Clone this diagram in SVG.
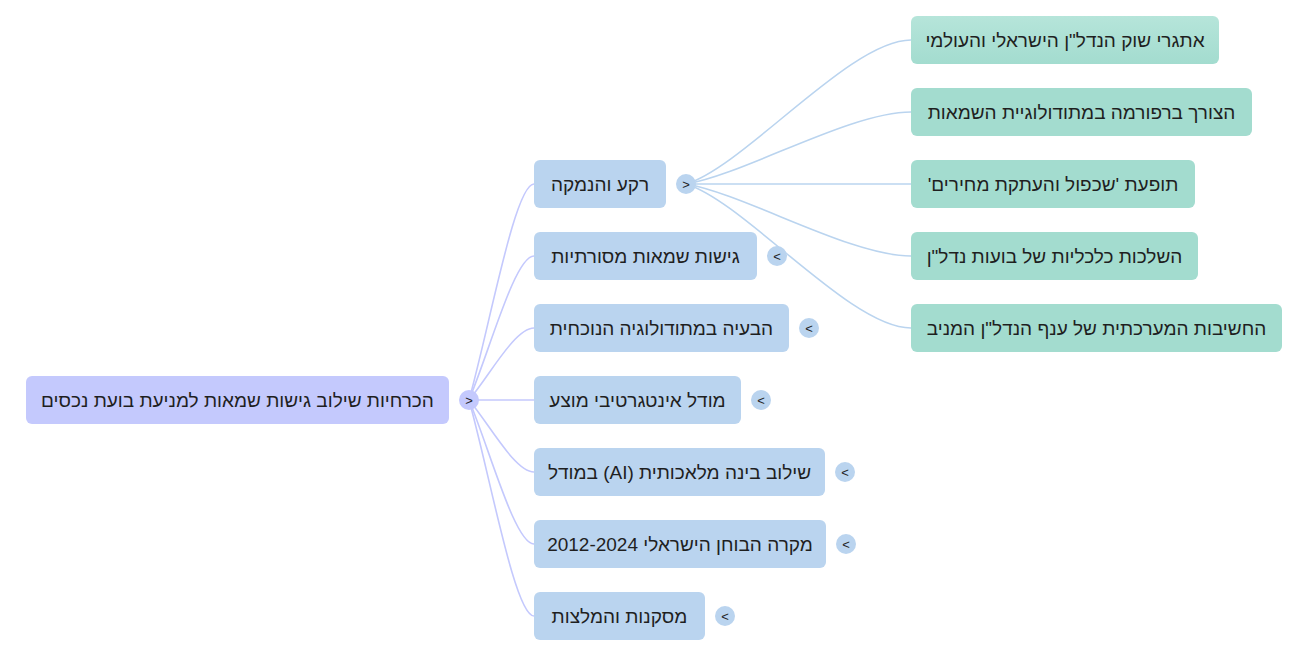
<svg xmlns="http://www.w3.org/2000/svg" width="1309" height="654" viewBox="0 0 1309 654">
<defs>
<linearGradient id="hov" x1="0" y1="0" x2="0" y2="1">
<stop offset="0" stop-color="#b6e5da"/>
<stop offset="1" stop-color="#a3dccf"/>
</linearGradient>
</defs>
<style>
text{font-family:"Liberation Sans","DejaVu Sans",sans-serif;fill:#1f1f1f}
.t{font-size:19px;text-anchor:middle;direction:rtl;unicode-bidi:embed}
.b{font-size:13px;text-anchor:middle}
.root rect,.root circle{fill:#c4c9fd}
.l1 rect,.l1 circle{fill:#bad4ef}
.leaf rect{fill:#a3dccf}
.c0{fill:none;stroke:#c4c9fd;stroke-width:1.6}
.c1{fill:none;stroke:#bad4ef;stroke-width:1.6}
</style>
<rect width="1309" height="654" fill="#ffffff"/>
<g id="connectors">
<path class="c0" d="M469 400 C490 324.4,515 184,534 184"/>
<path class="c0" d="M469 400 C490 349.6,515 256,534 256"/>
<path class="c0" d="M469 400 C490 374.8,515 328,534 328"/>
<path class="c0" d="M469 400 L534 400"/>
<path class="c0" d="M469 400 C490 425.2,515 472,534 472"/>
<path class="c0" d="M469 400 C490 450.4,515 544,534 544"/>
<path class="c0" d="M469 400 C490 475.6,515 616,534 616"/>
<path class="c1" d="M686 184 C745 166,850 40,911 40"/>
<path class="c1" d="M686 184 C745 174,850 112,911 112"/>
<path class="c1" d="M686 184 L911 184"/>
<path class="c1" d="M686 184 C745 194,850 256,911 256"/>
<path class="c1" d="M686 184 C745 202,850 328,911 328"/>
</g>
<g id="root" class="root">
<rect x="26" y="376" width="423" height="48" rx="6"/>
<text class="t" x="237.5" y="406.5">הכרחיות שילוב גישות שמאות למניעת בועת נכסים</text>
<circle cx="469" cy="400" r="10"/>
<text class="b" x="469" y="404.5">&gt;</text>
</g>
<g id="n1" class="l1">
<rect x="534" y="160" width="132" height="48" rx="6"/>
<text class="t" x="600" y="190.5">רקע והנמקה</text>
<circle cx="686" cy="184" r="10"/>
<text class="b" x="686" y="188.5">&gt;</text>
</g>
<g id="n2" class="l1">
<rect x="534" y="232" width="223" height="48" rx="6"/>
<text class="t" x="645.5" y="262.5">גישות שמאות מסורתיות</text>
<circle cx="777" cy="256" r="10"/>
<text class="b" x="777" y="260.5">&lt;</text>
</g>
<g id="n3" class="l1">
<rect x="534" y="304" width="255" height="48" rx="6"/>
<text class="t" x="661.5" y="334.5">הבעיה במתודולוגיה הנוכחית</text>
<circle cx="809" cy="328" r="10"/>
<text class="b" x="809" y="332.5">&lt;</text>
</g>
<g id="n4" class="l1">
<rect x="534" y="376" width="207" height="48" rx="6"/>
<text class="t" x="637.5" y="406.5">מודל אינטגרטיבי מוצע</text>
<circle cx="761" cy="400" r="10"/>
<text class="b" x="761" y="404.5">&lt;</text>
</g>
<g id="n5" class="l1">
<rect x="534" y="448" width="291" height="48" rx="6"/>
<text class="t" x="679.5" y="478.5">שילוב בינה מלאכותית (AI) במודל</text>
<circle cx="845" cy="472" r="10"/>
<text class="b" x="845" y="476.5">&lt;</text>
</g>
<g id="n6" class="l1">
<rect x="534" y="520" width="292" height="48" rx="6"/>
<text class="t" x="680" y="550.5">מקרה הבוחן הישראלי 2012-2024</text>
<circle cx="846" cy="544" r="10"/>
<text class="b" x="846" y="548.5">&lt;</text>
</g>
<g id="n7" class="l1">
<rect x="534" y="592" width="171" height="48" rx="6"/>
<text class="t" x="619.5" y="622.5">מסקנות והמלצות</text>
<circle cx="725" cy="616" r="10"/>
<text class="b" x="725" y="620.5">&lt;</text>
</g>
<g id="n1a" class="leaf">
<rect x="911" y="16" width="308" height="48" rx="6" style="fill:url(#hov)"/>
<text class="t" x="1065" y="46.5">אתגרי שוק הנדל"ן הישראלי והעולמי</text>
</g>
<g id="n1b" class="leaf">
<rect x="911" y="88" width="341" height="48" rx="6"/>
<text class="t" x="1081.5" y="118.5">הצורך ברפורמה במתודולוגיית השמאות</text>
</g>
<g id="n1c" class="leaf">
<rect x="911" y="160" width="284" height="48" rx="6"/>
<text class="t" x="1053" y="190.5">תופעת 'שכפול והעתקת מחירים'</text>
</g>
<g id="n1d" class="leaf">
<rect x="911" y="232" width="287" height="48" rx="6"/>
<text class="t" x="1054.5" y="262.5">השלכות כלכליות של בועות נדל"ן</text>
</g>
<g id="n1e" class="leaf">
<rect x="911" y="304" width="371" height="48" rx="6"/>
<text class="t" x="1096.5" y="334.5">החשיבות המערכתית של ענף הנדל"ן המניב</text>
</g>
</svg>
